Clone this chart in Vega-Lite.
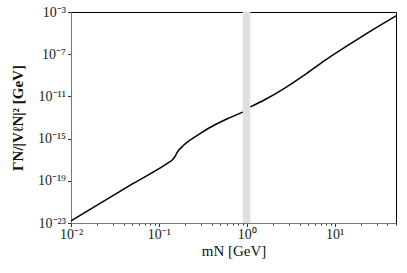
{
  "$schema": "https://vega.github.io/schema/vega-lite/v6.json",
  "width": 325,
  "height": 211,
  "autosize": "none",
  "padding": {"left": 71, "top": 12, "right": 11, "bottom": 50},
  "background": "white",
  "config": {
    "view": {"stroke": "black", "strokeWidth": 1},
    "font": "Liberation Serif",
    "axis": {
      "grid": false,
      "domainColor": "#777777",
      "domainWidth": 1,
      "tickColor": "#333333",
      "labelColor": "#222222",
      "labelFont": "Liberation Serif",
      "labelFontSize": 14,
      "titleFont": "Liberation Serif",
      "titleColor": "#111111",
      "titleFontSize": 15,
      "labelOverlap": false,
      "labelFlush": false,
      "labelBound": false
    }
  },
  "layer": [
    {
      "data": {"values": [{"lo": 0.9, "hi": 1.1}]},
      "mark": {"type": "rect", "color": "#e0e0e0"},
      "encoding": {
        "x": {
          "field": "lo",
          "type": "quantitative",
          "scale": {"type": "log", "domain": [0.01, 50], "nice": false},
          "axis": {
            "title": "mN [GeV]",
            "titleFontWeight": "normal",
            "titlePadding": 2,
            "values": [0.01, 0.02, 0.03, 0.04, 0.05, 0.06, 0.07, 0.08, 0.09, 0.1, 0.2, 0.3, 0.4, 0.5, 0.6, 0.7, 0.8, 0.9, 1, 2, 3, 4, 5, 6, 7, 8, 9, 10, 20, 30, 40, 50],
            "labelExpr": "abs(log(datum.value)/LN10 - round(log(datum.value)/LN10)) > 0.001 ? '' : (round(log(datum.value)/LN10) == -2 ? '10⁻²' : round(log(datum.value)/LN10) == -1 ? '10⁻¹' : round(log(datum.value)/LN10) == 0 ? '10⁰' : '10¹')",
            "tickSize": {"condition": {"test": "abs(log(datum.value)/LN10 - round(log(datum.value)/LN10)) < 0.001", "value": 3.5}, "value": 2},
            "labelPadding": 1
          }
        },
        "x2": {"field": "hi"}
      }
    },
    {
      "data": {
        "values": [
          {"seg": "a", "m": 0.01, "g": 1.58e-23},
          {"seg": "a", "m": 0.05, "g": 5.0e-20},
          {"seg": "a", "m": 0.135, "g": 6.8e-18},
          {"seg": "a", "m": 0.142, "g": 9.2e-18},
          {"seg": "a", "m": 0.15, "g": 1.6e-17},
          {"seg": "a", "m": 0.163, "g": 5.5e-17},
          {"seg": "a", "m": 0.19, "g": 2.2e-16},
          {"seg": "a", "m": 0.23, "g": 7.8e-16},
          {"seg": "a", "m": 0.3, "g": 3.3e-15},
          {"seg": "a", "m": 0.4345, "g": 2.04e-14},
          {"seg": "a", "m": 0.644, "g": 9.8e-14},
          {"seg": "a", "m": 0.9, "g": 3.3e-13},
          {"seg": "b", "m": 1.1, "g": 1.0e-12},
          {"seg": "b", "m": 1.6, "g": 4.8e-12},
          {"seg": "b", "m": 2.71, "g": 6.2e-11},
          {"seg": "b", "m": 4.56, "g": 1.12e-9},
          {"seg": "b", "m": 7.69, "g": 2.5e-8},
          {"seg": "b", "m": 19.2, "g": 3.4e-6},
          {"seg": "b", "m": 50, "g": 4.2e-4}
        ]
      },
      "mark": {"type": "line", "color": "black", "strokeWidth": 1.5, "interpolate": "monotone"},
      "encoding": {
        "x": {"field": "m", "type": "quantitative"},
        "y": {
          "field": "g",
          "type": "quantitative",
          "scale": {"type": "log", "domain": [1e-23, 1e-3], "nice": false},
          "axis": {
            "title": "ΓN/|VℓN|² [GeV]",
            "titleFontWeight": "bold",
            "titlePadding": 12,
            "values": [1e-23, 1e-19, 1e-15, 1e-11, 1e-7, 1e-3],
            "labelExpr": "'10' + (round(log(datum.value)/LN10) == -3 ? '⁻³' : round(log(datum.value)/LN10) == -7 ? '⁻⁷' : round(log(datum.value)/LN10) == -11 ? '⁻¹¹' : round(log(datum.value)/LN10) == -15 ? '⁻¹⁵' : round(log(datum.value)/LN10) == -19 ? '⁻¹⁹' : '⁻²³')",
            "tickSize": 3.5,
            "labelPadding": 2
          }
        },
        "detail": {"field": "seg"}
      }
    }
  ]
}
